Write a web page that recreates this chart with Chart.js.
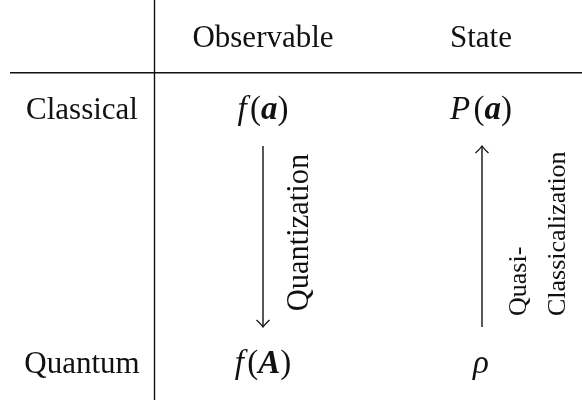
<!DOCTYPE html>
<html>
<head>
<meta charset="utf-8">
<script src="https://cdn.jsdelivr.net/npm/chart.js@4.4.1/dist/chart.umd.min.js"></script>
<style>
  html, body { margin: 0; padding: 0; background: #fff; }
  canvas { display: block; }
</style>
</head>
<body>
<canvas id="diagramChart" width="582" height="404"></canvas>
<script>
// Table content
const colLabels = ['Observable', 'State'];
const rowLabels = ['Classical', 'Quantum'];
// each term is a list of [text, style] pieces (i = italic, bi = bold italic, '' = upright)
const cellTerms = [
    [ [['f', 'i'], ['(', ''], ['a', 'bi'], [')', '']], [['P', 'i'], ['(', ''], ['a', 'bi'], [')', '']] ],
    [ [['f', 'i'], ['(', ''], ['A', 'bi'], [')', '']], [['\u03C1', 'i']] ]
];
// arrows between the rows: column index, direction, label lines
const transitionCols = [0, 1];
const transitionDirs = ['down', 'up'];
const transitionLabels = [['Quantization'], ['Quasi-', 'Classicalization']];

// Layout (pixel-like units of the hidden scales)
const colX = [82, 263, 481];        // row header column, then data columns
const rowBase = [47, 119, 373];     // header row, then data rows
const arrowTop = 146;
const arrowBottom = 327;
const arrowX = [263, 482];
const labelBase = [[308], [526, 565]];
const FONT = "'Liberation Serif', 'Times New Roman', serif";
const INK = '#111';

function font(style, size) {
    if (style === 'i') return 'italic ' + size + 'px ' + FONT;
    if (style === 'bi') return 'italic bold ' + size + 'px ' + FONT;
    return size + 'px ' + FONT;
}

// draw a term made of several styled pieces, centered on cx
function drawTerm(ctx, pieces, cx, cy, size) {
    let total = 0;
    const widths = pieces.map(p => {
        ctx.font = font(p[1], size);
        let w = ctx.measureText(p[0]).width;
        if (p[1] === 'i' && pieces.length > 1) w += size * 0.1; // italic correction
        total += w;
        return w;
    });
    let x = cx - total / 2;
    ctx.textAlign = 'left';
    pieces.forEach((p, i) => {
        ctx.font = font(p[1], size);
        ctx.fillText(p[0], x, cy);
        x += widths[i];
    });
}

// LaTeX-like curved arrow head
function drawHead(ctx, x, y, dir) {
    const s = dir === 'down' ? -1 : 1;
    ctx.save();
    ctx.strokeStyle = INK;
    ctx.lineWidth = 1.3;
    ctx.beginPath();
    ctx.moveTo(x - 6.5, y + s * 7);
    ctx.quadraticCurveTo(x - 2, y + s * 3, x, y);
    ctx.quadraticCurveTo(x + 2, y + s * 3, x + 6.5, y + s * 7);
    ctx.stroke();
    ctx.restore();
}

const labelPlugin = {
    id: 'tableLabels',
    afterDatasetsDraw(chart) {
        const ctx = chart.ctx;
        const sx = chart.scales.x, sy = chart.scales.y;
        ctx.save();
        ctx.fillStyle = INK;
        ctx.textBaseline = 'alphabetic';
        ctx.textAlign = 'center';

        // column headers
        ctx.font = font('', 31);
        colLabels.forEach((t, i) => {
            ctx.fillText(t, sx.getPixelForValue(colX[i + 1]), sy.getPixelForValue(rowBase[0]));
        });
        // row headers
        rowLabels.forEach((t, i) => {
            ctx.font = font('', 31);
            ctx.textAlign = 'center';
            ctx.fillText(t, sx.getPixelForValue(colX[0]), sy.getPixelForValue(rowBase[i + 1]));
        });
        // cells
        cellTerms.forEach((row, r) => {
            row.forEach((term, c) => {
                drawTerm(ctx, term, sx.getPixelForValue(colX[c + 1]), sy.getPixelForValue(rowBase[r + 1]), 33);
            });
        });

        // arrow heads and rotated labels
        chart.data.datasets.forEach((ds, i) => {
            if (!ds.arrow) return;
            const meta = chart.getDatasetMeta(i);
            const tip = ds.arrow === 'down' ? meta.data[1] : meta.data[0];
            drawHead(ctx, tip.x, tip.y, ds.arrow);
        });
        transitionLabels.forEach((lines, k) => {
            const size = lines.length > 1 ? 26 : 30.5;
            ctx.font = font('', size);
            lines.forEach((t, j) => {
                ctx.save();
                if (lines.length > 1) {
                    ctx.translate(sx.getPixelForValue(labelBase[k][j]), sy.getPixelForValue(316));
                    ctx.rotate(-Math.PI / 2);
                    ctx.textAlign = 'left';
                } else {
                    ctx.translate(sx.getPixelForValue(labelBase[k][j]), sy.getPixelForValue((arrowTop + arrowBottom) / 2 - 4));
                    ctx.rotate(-Math.PI / 2);
                    ctx.textAlign = 'center';
                }
                ctx.fillText(t, 0, 0);
                ctx.restore();
            });
        });
        ctx.restore();
    }
};

// lines: the two table rules and the two arrows
const datasets = [
    { data: [{ x: 154.5, y: 0 }, { x: 154.5, y: 400 }] },
    { data: [{ x: 10, y: 72.7 }, { x: 582, y: 72.7 }] }
];
transitionCols.forEach((c, k) => {
    datasets.push({
        arrow: transitionDirs[k],
        data: [{ x: arrowX[c], y: arrowTop }, { x: arrowX[c], y: arrowBottom }]
    });
});
datasets.forEach(ds => {
    ds.showLine = true;
    ds.borderColor = INK;
    ds.borderWidth = 1.4;
    ds.pointRadius = 0;
    ds.fill = false;
});

new Chart(document.getElementById('diagramChart'), {
    type: 'scatter',
    data: { datasets: datasets },
    options: {
        responsive: false,
        animation: false,
        events: [],
        layout: { padding: 0 },
        plugins: {
            legend: { display: false },
            tooltip: { enabled: false }
        },
        scales: {
            x: { type: 'linear', display: false, min: 0, max: 582 },
            y: { type: 'linear', display: false, min: 0, max: 404, reverse: true }
        }
    },
    plugins: [labelPlugin]
});
</script>
</body>
</html>
